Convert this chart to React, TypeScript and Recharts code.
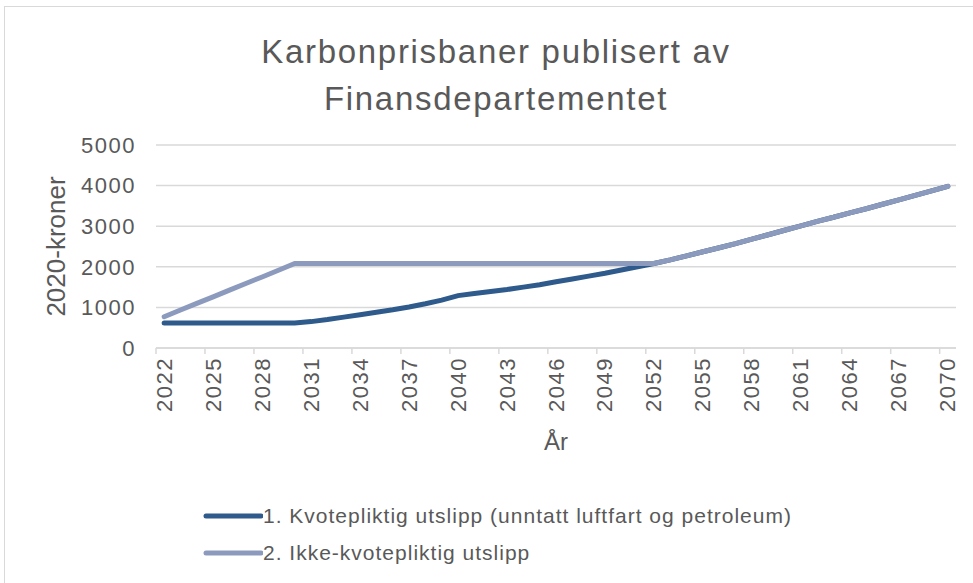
import { LineChart, Line, XAxis, YAxis, CartesianGrid, Label } from "recharts";

const years = [
  2022, 2023, 2024, 2025, 2026, 2027, 2028, 2029, 2030, 2031, 2032, 2033, 2034, 2035, 2036, 2037,
  2038, 2039, 2040, 2041, 2042, 2043, 2044, 2045, 2046, 2047, 2048, 2049, 2050, 2051, 2052, 2053,
  2054, 2055, 2056, 2057, 2058, 2059, 2060, 2061, 2062, 2063, 2064, 2065, 2066, 2067, 2068, 2069,
  2070,
];

// 1. Kvotepliktig utslipp (unntatt luftfart og petroleum)
const kvotepliktig = [
  615, 615, 615, 615, 615, 615, 615, 615, 615, 650, 700, 760, 820, 880, 940, 1010,
  1090, 1180, 1290, 1340, 1390, 1440, 1500, 1560, 1630, 1700, 1770, 1840, 1920, 2000, 2080, 2170,
  2270, 2370, 2470, 2570, 2680, 2790, 2900, 3010, 3120, 3220, 3330, 3430, 3540, 3650, 3760, 3870,
  3980,
];

// 2. Ikke-kvotepliktig utslipp
const ikkeKvotepliktig = [
  770, 935, 1100, 1260, 1425, 1590, 1750, 1915, 2080, 2080, 2080, 2080, 2080, 2080, 2080, 2080,
  2080, 2080, 2080, 2080, 2080, 2080, 2080, 2080, 2080, 2080, 2080, 2080, 2080, 2080, 2080, 2170,
  2270, 2370, 2470, 2570, 2680, 2790, 2900, 3010, 3120, 3220, 3330, 3430, 3540, 3650, 3760, 3870,
  3980,
];

const yTicks = [0, 1000, 2000, 3000, 4000, 5000];

const series = [
  { key: "s1", name: "1. Kvotepliktig utslipp (unntatt luftfart og petroleum)", color: "#2e5a8c" },
  { key: "s2", name: "2. Ikke-kvotepliktig utslipp", color: "#8c9bbd" },
];

const data = years.map((year, i) => ({
  year: String(year),
  s1: kvotepliktig[i],
  s2: ikkeKvotepliktig[i],
}));

const W = 973;
const H = 583;
const Y_AXIS_W = 100;
const X_AXIS_H = 100;
const margin = { top: 145, right: 17, bottom: 135, left: 56 };
const TEXT = "#595959";
const GRID = "#d9d9d9";
const FONT = "'Liberation Sans', Arial, sans-serif";

// Excel puts the points in the middle of each category and the tick marks on the boundaries
const halfBand = (W - margin.left - Y_AXIS_W - margin.right) / years.length / 2;

function XTick(props: any) {
  const { x, y, payload } = props;
  return (
    <g>
      <line x1={x - halfBand} x2={x - halfBand} y1={y - 8} y2={y - 2} stroke={GRID} strokeWidth={1.5} />
      <text
        x={x}
        y={y + 1}
        transform={`rotate(-90, ${x}, ${y + 1})`}
        textAnchor="end"
        dominantBaseline="central"
        fontSize={22}
        letterSpacing={1.5}
        fill={TEXT}
        fontFamily={FONT}
      >
        {payload.value}
      </text>
    </g>
  );
}

export default function App() {
  return (
    <div
      style={{
        position: "absolute",
        left: 0,
        top: 0,
        width: W,
        height: H,
        background: "#fff",
        overflow: "hidden",
        fontFamily: FONT,
      }}
    >
      <div
        style={{
          position: "absolute",
          left: 4,
          top: 6,
          width: W,
          height: H,
          border: `1px solid ${GRID}`,
          boxSizing: "border-box",
        }}
      />
      <div
        style={{
          position: "absolute",
          left: 0,
          top: 28,
          width: W,
          textAlign: "center",
          fontSize: 33,
          letterSpacing: 1.7,
          lineHeight: "47px",
          color: TEXT,
          paddingLeft: 19,
          boxSizing: "border-box",
        }}
      >
        Karbonprisbaner publisert av
        <br />
        Finansdepartementet
      </div>
      <div style={{ position: "absolute", left: 0, top: 0 }}>
        <LineChart width={W} height={H} data={data} margin={margin}>
          <CartesianGrid vertical={false} stroke={GRID} strokeWidth={1.5} />
          <XAxis
            dataKey="year"
            interval={2}
            stroke={GRID}
            strokeWidth={1.5}
            tickLine={false}
            tick={<XTick />}
            height={X_AXIS_H}
            padding={{ left: halfBand, right: halfBand }}
          >
            <Label value="År" position="insideBottom" offset={-2} fill={TEXT} fontSize={24} fontFamily={FONT} />
          </XAxis>
          <YAxis
            domain={[0, 5000]}
            ticks={yTicks}
            axisLine={false}
            tickLine={false}
            tick={{ fill: TEXT, fontSize: 22, fontFamily: FONT, letterSpacing: 1.5 }}
            tickMargin={14}
            width={Y_AXIS_W}
          >
            <Label
              value="2020-kroner"
              angle={-90}
              position="insideLeft"
              offset={0}
              fill={TEXT}
              fontSize={26}
              fontFamily={FONT}
              style={{ textAnchor: "middle" }}
            />
          </YAxis>
          {series.map((s) => (
            <Line
              key={s.key}
              dataKey={s.key}
              name={s.name}
              stroke={s.color}
              strokeWidth={5}
              strokeLinecap="round"
              dot={false}
              isAnimationActive={false}
            />
          ))}
        </LineChart>
      </div>
      <div
        style={{
          position: "absolute",
          left: 202,
          top: 497,
          fontSize: 21,
          letterSpacing: 1,
          color: TEXT,
        }}
      >
        {series.map((s) => (
          <div key={s.key} style={{ display: "flex", alignItems: "center", height: 37 }}>
            <svg width={61} height={10}>
              <line x1={4} x2={59} y1={5} y2={5} stroke={s.color} strokeWidth={5} strokeLinecap="round" />
            </svg>
            <span style={{ whiteSpace: "nowrap" }}>{s.name}</span>
          </div>
        ))}
      </div>
    </div>
  );
}
